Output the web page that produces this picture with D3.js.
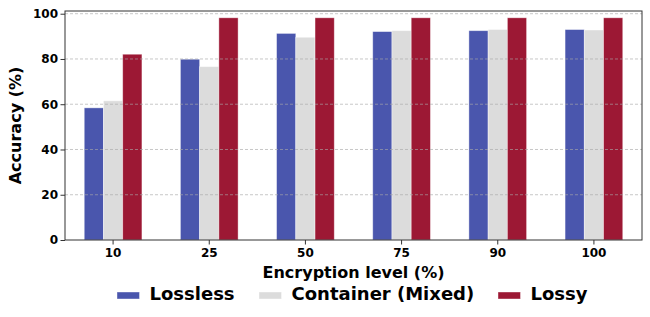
<!DOCTYPE html>
<html>
<head>
<meta charset="utf-8">
<script src="https://cdn.jsdelivr.net/npm/d3@7"></script>
<style>
  html, body { margin: 0; padding: 0; background: #fff; }
  svg { display: block; font-family: "DejaVu Sans", sans-serif; font-weight: bold; }
</style>
</head>
<body>
<svg id="chart" width="650" height="317"></svg>
<script>
const levels = ['10', '25', '50', '75', '90', '100'];
const seriesNames = ['Lossless', 'Container (Mixed)', 'Lossy'];
const lossless = [58.4, 79.9, 91.3, 92.1, 92.5, 93.0];
const container = [61.5, 76.6, 89.6, 92.5, 93.0, 92.8];
const lossy = [82.1, 98.2, 98.2, 98.2, 98.2, 98.2];
const yTicks = [0, 20, 40, 60, 80, 100];
const colors = ['#4a56ad', '#dcdcdc', '#9c1834'];

const series = [lossless, container, lossy];

const svg = d3.select('#chart');
const margin = { left: 65, right: 8, top: 11, bottom: 77 };
const width = 650 - margin.left - margin.right;
const height = 317 - margin.top - margin.bottom;

const g = svg.append('g').attr('transform', `translate(${margin.left},${margin.top})`);

const x = d3.scaleBand()
  .domain(levels)
  .range([0, width])
  .paddingInner(0.4)
  .paddingOuter(0.2);

const xSub = d3.scaleBand()
  .domain(d3.range(series.length))
  .range([0, x.bandwidth()]);

const y = d3.scaleLinear().domain([0, 101.2]).range([height, 0]);

// bars
series.forEach((vals, si) => {
  g.append('g')
    .selectAll('rect')
    .data(vals)
    .join('rect')
    .attr('x', (d, i) => x(levels[i]) + xSub(si))
    .attr('y', d => y(d))
    .attr('width', xSub.bandwidth())
    .attr('height', d => y(0) - y(d))
    .attr('fill', colors[si])
    .attr('stroke', 'rgba(255,255,255,0.5)')
    .attr('stroke-width', 0.8);
});

// grid on top of bars
g.append('g')
  .selectAll('line')
  .data(yTicks.filter(t => t > 0))
  .join('line')
  .attr('x1', 0)
  .attr('x2', width)
  .attr('y1', d => y(d))
  .attr('y2', d => y(d))
  .attr('stroke', '#a8a8a8')
  .attr('stroke-opacity', 0.8)
  .attr('stroke-width', 0.8)
  .attr('stroke-dasharray', '3,2');

function styleAxis(sel) {
  sel.attr('font-family', '"DejaVu Sans", sans-serif')
    .attr('font-size', 12)
    .attr('font-weight', 'bold');
  sel.select('.domain').remove();
  sel.selectAll('text').attr('fill', '#000');
  sel.selectAll('line').attr('stroke', '#333');
}

// axes
const yAxis = g.append('g')
  .call(d3.axisLeft(y).tickValues(yTicks).tickSize(4.5).tickPadding(2.5));
styleAxis(yAxis);

const xAxis = g.append('g')
  .attr('transform', `translate(0,${height})`)
  .call(d3.axisBottom(x).tickSize(4.5).tickPadding(4));
styleAxis(xAxis);

// frame
g.append('rect')
  .attr('width', width)
  .attr('height', height)
  .attr('fill', 'none')
  .attr('stroke', '#333')
  .attr('stroke-width', 1);

// axis labels
svg.append('text')
  .attr('x', margin.left + width / 2)
  .attr('y', 278)
  .attr('text-anchor', 'middle')
  .style('font-size', '16px')
  .text('Encryption level (%)');

svg.append('text')
  .attr('transform', `translate(21,${margin.top + height / 2}) rotate(-90)`)
  .attr('text-anchor', 'middle')
  .style('font-size', '16px')
  .text('Accuracy (%)');

// legend
const legendX = [117, 259, 498];
const legend = svg.append('g');
seriesNames.forEach((name, i) => {
  legend.append('rect')
    .attr('x', legendX[i])
    .attr('y', 292)
    .attr('width', 22.5)
    .attr('height', 7)
    .attr('fill', colors[i])
    .attr('stroke', 'rgba(255,255,255,0.5)')
    .attr('stroke-width', 0.8);
  legend.append('text')
    .attr('x', legendX[i] + 32.5)
    .attr('y', 300)
    .style('font-size', '18px')
    .text(name);
});
</script>
</body>
</html>
